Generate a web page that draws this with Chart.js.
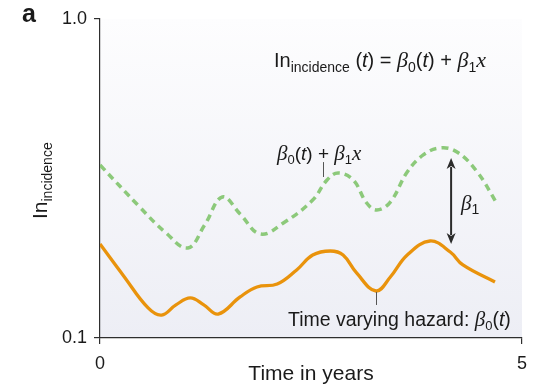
<!DOCTYPE html>
<html>
<head>
<meta charset="utf-8">
<script src="https://cdn.jsdelivr.net/npm/chart.js@4.4.1/dist/chart.umd.min.js"></script>
<style>
  html, body { margin: 0; padding: 0; background: #fff; }
  #wrap { width: 540px; height: 385px; position: relative; }
</style>
</head>
<body>
<div id="wrap"><canvas id="hazardChart"></canvas></div>
<script>
// ===== Data
const hazardTime  = [0, 0.28, 0.57, 0.73, 0.90, 1.07, 1.23, 1.40, 1.66, 1.86, 2.10, 2.33, 2.52, 2.73, 2.88, 3.04, 3.27, 3.44, 3.64, 3.91, 4.15, 4.30, 4.68];
const hazardValue = [0.197, 0.1565, 0.1242, 0.118, 0.127, 0.1335, 0.127, 0.1189, 0.1345, 0.1445, 0.1476, 0.1634, 0.182, 0.1874, 0.182, 0.1599, 0.1404, 0.1553, 0.182, 0.2014, 0.186, 0.1694, 0.1498];

const shiftedTime  = [0, 0.47, 0.77, 1.04, 1.24, 1.45, 1.66, 1.90, 2.19, 2.52, 2.69, 2.82, 3.00, 3.16, 3.28, 3.44, 3.64, 3.83, 4.03, 4.23, 4.47, 4.70];
const shiftedValue = [0.3486, 0.2575, 0.2149, 0.1915, 0.2261, 0.2767, 0.2448, 0.2118, 0.2310, 0.2707, 0.3128, 0.3290, 0.3128, 0.2649, 0.2519, 0.2668, 0.3314, 0.3748, 0.3942, 0.3830, 0.3314, 0.2649];

const xTicks = [0, 5];
const yTicks = [0.1, 1.0];

// callout anchors (time, value)
const shiftedCallout = { t: 2.64, from: 0.356, to: 0.3197 };
const hazardCallout  = { t: 3.27, from: 0.1394, to: 0.1269 };
const betaArrow      = { t: 4.16, from: 0.3667, to: 0.197 };

// ===== Utils
const SANS = '"Liberation Sans", Arial, sans-serif';
const SERIF = '"Liberation Serif", "Times New Roman", serif';
const INK = '#1a1a1a';
const zip = (xs, ys) => xs.map((x, i) => ({ x, y: ys[i] }));

// draws a run of text pieces left to right from (x, y) baseline
function drawRich(ctx, x, y, parts) {
  let cx = x;
  parts.forEach(p => {
    ctx.font = p.f;
    ctx.fillText(p.t, cx, y + (p.dy || 0));
    cx += ctx.measureText(p.t).width;
  });
}

const sans = s => `${s}px ${SANS}`;
const sansIt = s => `italic ${s}px ${SANS}`;
const serifIt = s => `italic ${s}px ${SERIF}`;

// ===== Plugins
const panelBg = {
  id: 'panelBg',
  beforeDraw(chart) {
    const { ctx, chartArea: a } = chart;
    const g = ctx.createLinearGradient(0, a.top, 0, a.bottom);
    g.addColorStop(0, '#fdfdfe');
    g.addColorStop(1, '#edeef5');
    ctx.save();
    ctx.fillStyle = g;
    ctx.fillRect(a.left, a.top, a.right - a.left, a.bottom - a.top);
    ctx.restore();
  }
};

const annotations = {
  id: 'annotations',
  afterDraw(chart) {
    const { ctx } = chart;
    const xs = chart.scales.x, ys = chart.scales.y;
    ctx.save();
    ctx.fillStyle = INK;
    ctx.textBaseline = 'alphabetic';
    ctx.textAlign = 'left';

    // panel letter
    ctx.font = `bold 25px ${SANS}`;
    ctx.fillText('a', 22, 22);

    // y-axis title, rotated
    ctx.save();
    ctx.translate(47, 219);
    ctx.rotate(-Math.PI / 2);
    drawRich(ctx, 0, 0, [
      { t: 'In', f: sans(21) },
      { t: 'incidence', f: sans(14), dy: 5 }
    ]);
    ctx.restore();

    // model formula
    drawRich(ctx, 274, 67, [
      { t: 'In', f: sans(20) },
      { t: 'incidence', f: sans(14), dy: 5 },
      { t: ' (', f: sans(20) },
      { t: 't', f: sansIt(20) },
      { t: ') = ', f: sans(20) },
      { t: 'β', f: serifIt(22) },
      { t: '0', f: sans(14), dy: 5 },
      { t: '(', f: sans(20) },
      { t: 't', f: sansIt(20) },
      { t: ') + ', f: sans(20) },
      { t: 'β', f: serifIt(22) },
      { t: '1', f: sans(14), dy: 5 },
      { t: 'x', f: serifIt(22) }
    ]);

    // label over the shifted curve
    drawRich(ctx, 277, 160, [
      { t: 'β', f: serifIt(21) },
      { t: '0', f: sans(13), dy: 4 },
      { t: '(', f: sans(19) },
      { t: 't', f: sansIt(19) },
      { t: ') + ', f: sans(19) },
      { t: 'β', f: serifIt(21) },
      { t: '1', f: sans(13), dy: 4 },
      { t: 'x', f: serifIt(21) }
    ]);

    // beta_1 next to the arrow
    drawRich(ctx, 461, 210, [
      { t: 'β', f: serifIt(21) },
      { t: '1', f: sans(14), dy: 4 }
    ]);

    // label under the hazard curve
    drawRich(ctx, 288, 326, [
      { t: 'Time varying hazard: ', f: sans(19.5) },
      { t: 'β', f: serifIt(21) },
      { t: '0', f: sans(13), dy: 4 },
      { t: '(', f: sans(19.5) },
      { t: 't', f: sansIt(19.5) },
      { t: ')', f: sans(19.5) }
    ]);

    // small leader ticks
    ctx.strokeStyle = '#555';
    ctx.lineWidth = 1;
    [shiftedCallout, hazardCallout].forEach(c => {
      const x = Math.round(xs.getPixelForValue(c.t)) + 0.5;
      ctx.beginPath();
      ctx.moveTo(x, ys.getPixelForValue(c.from));
      ctx.lineTo(x, ys.getPixelForValue(c.to));
      ctx.stroke();
    });

    // double-headed arrow for beta_1
    const ax = xs.getPixelForValue(betaArrow.t);
    const ay1 = ys.getPixelForValue(betaArrow.from);
    const ay2 = ys.getPixelForValue(betaArrow.to);
    const head = 11, half = 4.5;
    ctx.strokeStyle = '#2b2b2b';
    ctx.fillStyle = '#2b2b2b';
    ctx.lineWidth = 2;
    ctx.beginPath();
    ctx.moveTo(ax, ay1 + head - 2);
    ctx.lineTo(ax, ay2 - head + 2);
    ctx.stroke();
    ctx.beginPath();
    ctx.moveTo(ax, ay1); ctx.lineTo(ax - half, ay1 + head); ctx.lineTo(ax, ay1 + head - 3); ctx.lineTo(ax + half, ay1 + head);
    ctx.closePath(); ctx.fill();
    ctx.beginPath();
    ctx.moveTo(ax, ay2); ctx.lineTo(ax - half, ay2 - head); ctx.lineTo(ax, ay2 - head + 3); ctx.lineTo(ax + half, ay2 - head);
    ctx.closePath(); ctx.fill();

    ctx.restore();
  }
};

// ===== Chart
const axisColor = '#2e2e2e';
const ctx = document.getElementById('hazardChart').getContext('2d');
new Chart(ctx, {
  type: 'line',
  data: {
    datasets: [
      {
        label: 'β0(t) + β1x',
        data: zip(shiftedTime, shiftedValue),
        borderColor: '#8cc97a',
        borderWidth: 3.5,
        borderDash: [7, 5],
        pointRadius: 0,
        tension: 0.4,
        fill: false
      },
      {
        label: 'Time varying hazard',
        data: zip(hazardTime, hazardValue),
        borderColor: '#e9930c',
        borderWidth: 3.3,
        pointRadius: 0,
        tension: 0.4,
        fill: false
      }
    ]
  },
  options: {
    responsive: true,
    maintainAspectRatio: false,
    animation: false,
    layout: { padding: { top: 19, right: 18, left: 0, bottom: 0 } },
    plugins: {
      legend: { display: false },
      tooltip: { enabled: false }
    },
    scales: {
      x: {
        type: 'linear',
        min: 0,
        max: 5,
        afterBuildTicks: s => { s.ticks = xTicks.map(v => ({ value: v })); },
        afterFit: s => { s.height = 47; },
        ticks: { color: INK, font: { family: SANS, size: 18 }, padding: 9, maxRotation: 0 },
        grid: { drawOnChartArea: false, drawTicks: true, tickLength: 6, color: axisColor, lineWidth: 1.2 },
        border: { color: axisColor, width: 1.2 },
        title: { display: true, text: 'Time in years', color: INK, font: { family: SANS, size: 21, lineHeight: 1.0 }, padding: { top: 0, bottom: 0 } }
      },
      y: {
        type: 'logarithmic',
        min: 0.1,
        max: 1,
        afterBuildTicks: s => { s.ticks = yTicks.map(v => ({ value: v })); },
        afterFit: s => { s.width = 100; },
        ticks: { color: INK, font: { family: SANS, size: 18 }, padding: 7, callback: v => Number(v).toFixed(1) },
        grid: { drawOnChartArea: false, drawTicks: true, tickLength: 6, color: axisColor, lineWidth: 1.2 },
        border: { color: axisColor, width: 1.2 }
      }
    }
  },
  plugins: [panelBg, annotations]
});
</script>
</body>
</html>
